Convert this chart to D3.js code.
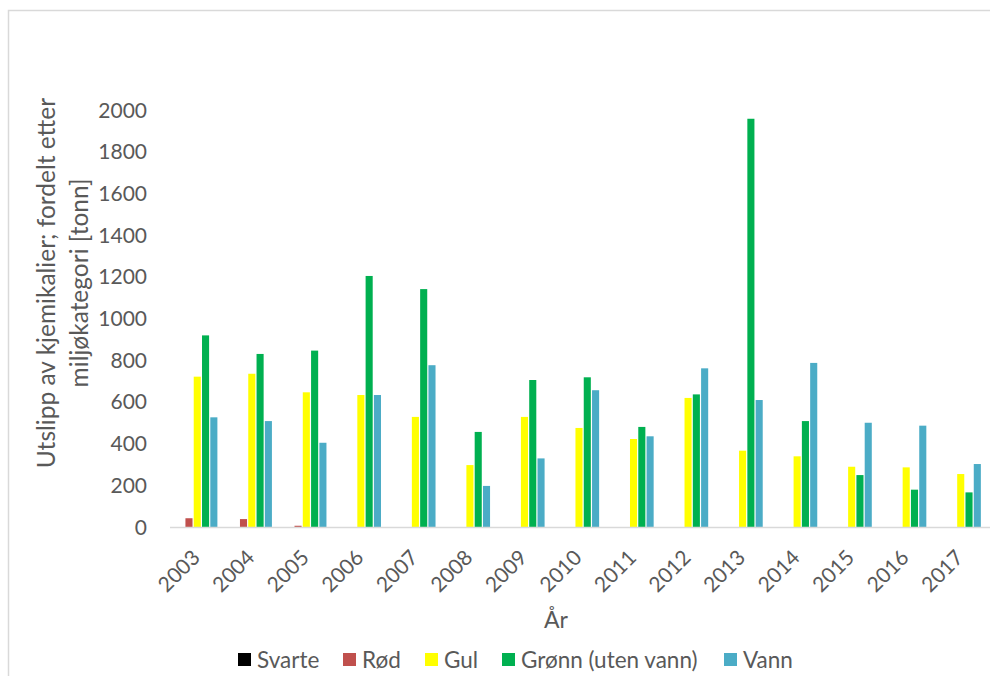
<!DOCTYPE html>
<html>
<head>
<meta charset="utf-8">
<script src="https://cdn.jsdelivr.net/npm/d3@7"></script>
<style>
  body { margin: 0; background: #fff; }
  svg { display: block; font-family: Lato, "Open Sans", sans-serif; }
</style>
</head>
<body>
<div id="chart"></div>
<script>
const years = ["2003","2004","2005","2006","2007","2008","2009","2010","2011","2012","2013","2014","2015","2016","2017"];
const series = ["Svarte", "Rød", "Gul", "Grønn (uten vann)", "Vann"];
const colors = ["#000000", "#c0504d", "#ffff00", "#00b050", "#4bacc6"];

// values in tonn
const svarte = [0, 0, 0, 0, 0, 0, 0, 0, 0, 0, 0, 0, 0, 0, 0];
const rod    = [42, 38, 6, 0, 0, 0, 0, 0, 0, 0, 0, 0, 0, 0, 0];
const gul    = [721, 735, 646, 633, 528, 297, 528, 475, 422, 619, 366, 339, 289, 286, 254];
const gronn  = [919, 830, 846, 1204, 1141, 456, 705, 718, 480, 636, 1958, 508, 249, 179, 166];
const vann   = [526, 508, 404, 633, 776, 197, 329, 656, 435, 761, 609, 787, 500, 486, 302];
const yTicks = [0, 200, 400, 600, 800, 1000, 1200, 1400, 1600, 1800, 2000];

const allValues = [svarte, rod, gul, gronn, vann];

const W = 990, H = 676;
const svg = d3.select("#chart").append("svg")
  .attr("width", W).attr("height", H);

// chart area border (only top and left visible)
svg.append("rect")
  .attr("x", 8.5).attr("y", 10.5)
  .attr("width", 1100).attr("height", 800)
  .attr("fill", "none").attr("stroke", "#d9d9d9").attr("stroke-width", 1.5);

const x0 = d3.scaleBand().domain(years).range([170, 988])
  .paddingInner(0.24).paddingOuter(0.12);
const x1 = d3.scaleBand().domain(series).range([0, x0.bandwidth()]);
const y = d3.scaleLinear().domain([0, 2000]).range([527, 110]);

const textColor = "#595959";

// bars
const groups = svg.append("g").selectAll("g")
  .data(years)
  .join("g")
  .attr("transform", d => `translate(${x0(d)},0)`);

groups.selectAll("rect")
  .data((d, i) => series.map((s, j) => ({ s, j, v: allValues[j][i] })))
  .join("rect")
  .attr("x", d => x1(d.s) + 0.6)
  .attr("y", d => y(d.v))
  .attr("width", x1.bandwidth() - 1.2)
  .attr("height", d => y(0) - y(d.v))
  .attr("fill", d => colors[d.j]);

// x axis line
svg.append("line")
  .attr("x1", 170).attr("x2", 990)
  .attr("y1", y(0) + 0.5).attr("y2", y(0) + 0.5)
  .attr("stroke", "#d9d9d9").attr("stroke-width", 1.5);

// y tick labels
svg.append("g").selectAll("text")
  .data(yTicks)
  .join("text")
  .attr("x", 147)
  .attr("y", d => y(d))
  .attr("dy", "0.36em")
  .attr("text-anchor", "end")
  .attr("fill", textColor)
  .attr("font-size", 21)
  .text(d => d);

// x tick labels, rotated
svg.append("g").selectAll("text")
  .data(years)
  .join("text")
  .attr("transform", d => `translate(${x0(d) + x0.bandwidth() / 2 + 4},559) rotate(-45)`)
  .attr("text-anchor", "end")
  .attr("fill", textColor)
  .attr("font-size", 21)
  .text(d => d);

// axis titles
svg.append("text")
  .attr("x", 556).attr("y", 628)
  .attr("text-anchor", "middle")
  .attr("fill", textColor)
  .attr("font-size", 23)
  .text("År");

const yTitle = svg.append("text")
  .attr("transform", "translate(55,283) rotate(-90)")
  .attr("text-anchor", "middle")
  .attr("fill", textColor)
  .attr("font-size", 24.5);
yTitle.append("tspan").attr("x", 0).attr("y", 0).text("Utslipp av kjemikalier; fordelt etter");
yTitle.append("tspan").attr("x", 0).attr("y", 33).text("miljøkategori [tonn]");

// legend
const legendX = [238, 343, 425, 502, 724];
const legend = svg.append("g").selectAll("g")
  .data(series)
  .join("g")
  .attr("transform", (d, i) => `translate(${legendX[i]},653)`);
legend.append("rect")
  .attr("width", 13).attr("height", 13)
  .attr("fill", (d, i) => colors[i]);
legend.append("text")
  .attr("x", 19).attr("y", 6.5)
  .attr("dy", "0.36em")
  .attr("fill", textColor)
  .attr("font-size", 22.5)
  .text(d => d);
</script>
</body>
</html>
